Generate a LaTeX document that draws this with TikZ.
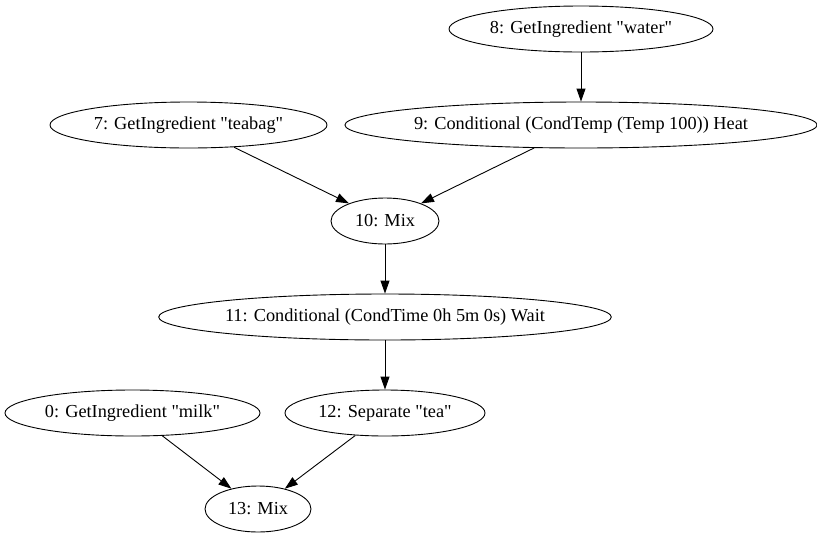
\documentclass[tikz,border=0pt]{standalone}
\usepackage{fontspec}
\setmainfont{Liberation Serif}
\usetikzlibrary{shapes.geometric,arrows.meta}

\begin{document}
\begin{tikzpicture}[x=1pt,y=-1pt,line width=0.9pt,>={Triangle[length=13pt,width=9pt]},
  op/.style={ellipse,draw,inner sep=0pt,minimum height=46pt,font=\fontsize{18.3}{22}\selectfont}]
            \useasboundingbox (0,0) rectangle (817,539);
            \node[op,minimum width=264pt] (n8) at (581,29) {8: GetIngredient \textquotedbl water\textquotedbl};
            \node[op,minimum width=277pt] (n7) at (188.5,125) {7: GetIngredient \textquotedbl teabag\textquotedbl};
            \node[op,minimum width=468pt] (n9) at (581,125) {9: Conditional (CondTemp (Temp 100)) Heat};
            \node[op,minimum width=108pt] (n10) at (385,221) {10: Mix};
            \node[op,minimum width=450pt] (n11) at (385,317) {11: Conditional (CondTime 0h 5m 0s) Wait};
            \node[op,minimum width=255pt] (n0) at (132.5,413) {0: GetIngredient \textquotedbl milk\textquotedbl};
            \node[op,minimum width=200pt] (n12) at (385,413) {12: Separate \textquotedbl tea\textquotedbl};
            \node[op,minimum width=106pt] (n13) at (258,509) {13: Mix};
            \draw[->] (n8) -- (n9);
            \draw[->] (n7) -- (n10);
            \draw[->] (n9) -- (n10);
            \draw[->] (n10) -- (n11);
            \draw[->] (n11) -- (n12);
            \draw[->] (n0) -- (n13);
            \draw[->] (n12) -- (n13);
        \end{tikzpicture}
\end{document}
